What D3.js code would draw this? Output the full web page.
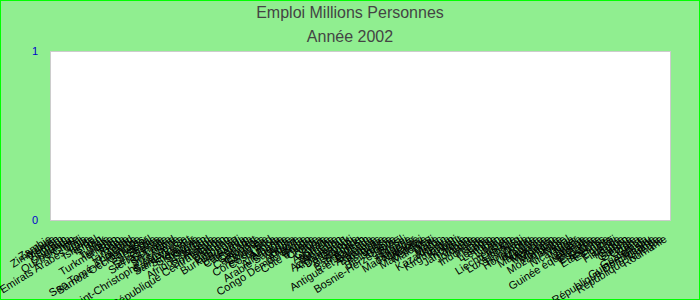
<!DOCTYPE html>
<html>
<head>
<meta charset="utf-8">
<script src="https://cdn.jsdelivr.net/npm/d3@7"></script>
<style>
  body { margin: 0; background: #fff; }
  svg { display: block; font-family: "Liberation Sans", Arial, sans-serif; }
</style>
</head>
<body>
<div id="chart"></div>
<script>
const title = 'Emploi Millions Personnes';
const subtitle = 'Année 2002';

const countries = [
  'Zambie', 'Zimbabwe', 'Yémen', 'Vietnam', 'Oman', 'Ouganda', 'Ouzbékistan', 'Chine', 'Chili',
  'Emirats Arabes Unis', 'Italie', 'Islande', 'Israël', 'Iran', 'Irak', 'Tunisie', 'Turquie',
  'Turkménistan', 'Togo', 'Tonga', 'Tanzanie', 'Tchad', 'Thaïlande', 'Sao Tomé-et-Principe',
  'Samoa Occidentales', 'Salvador', 'Sénégal', 'Serbie', 'Seychelles', 'Sierra Leone', 'Somalie',
  'Sri Lanka', 'Swaziland', 'Syrie', 'Saint-Christophe-et-Niévès', 'Sainte-Lucie', 'Saint-Vincent',
  'Singapour', 'Slovaquie', 'Slovénie', 'Soudan', 'Afrique du Sud', 'Algérie', 'Dominique',
  'République Centrafricaine', 'Bénin', 'Bhoutan', 'Birmanie', 'Burkina Faso', 'Burundi',
  'Botswana', 'Cameroun', 'Canada', 'Cap-Vert', 'Cambodge', 'Comores', 'Colombie', 'Corée du Sud',
  'Costa Rica', 'Angola', 'Albanie', 'Allemagne', 'Arabie Saoudite', 'Aruba', 'Andorre', 'Anguilla',
  'Congo Démocratique', 'Congo', "Côte d'Ivoire", 'Croatie', 'Cuba', 'Chypre', 'Australie',
  'Autriche', 'Arménie', 'Azerbaïdjan', 'Afghanistan', 'Danemark', 'Djibouti', 'Bermudes',
  'Barbade', 'Bangladesh', 'Bahreïn', 'Antigua-et-Barbuda', 'Argentine', 'Bahamas', 'Belgique',
  'Belize', 'Biélorussie', 'Bolivie', 'Bosnie-Herzégovine', 'Brésil', 'Brunei', 'Bulgarie',
  'Madagascar', 'Malaisie', 'Malawi', 'Macédoine', 'Maldives', 'Mali', 'Malte', 'Maroc',
  'Kazakhstan', 'Kenya', 'Kirghizistan', 'Kiribati', 'Koweït', 'Jamaïque', 'Japon', 'Jordanie',
  'Inde', 'Indonésie', 'Irlande', 'Laos', 'Lesotho', 'Lettonie', 'Liban', 'Libéria', 'Libye',
  'Liechtenstein', 'Lituanie', 'Luxembourg', 'Haïti', 'Honduras', 'Hong Kong', 'Hongrie',
  'Maurice', 'Mauritanie', 'Mexique', 'Moldavie', 'Monaco', 'Mongolie', 'Mozambique', 'Namibie',
  'Népal', 'Nicaragua', 'Niger', 'Nigeria', 'Norvège', 'Guinée équatoriale', 'Erythrée', 'Espagne',
  'Estonie', 'Etats-Unis', 'Ethiopie', 'Egypte', 'Fidji', 'Finlande', 'France', 'Gabon', 'Gambie',
  'Géorgie', 'Ghana', 'Grèce', 'Guatemala', 'Guinée-Bissau', 'République Dominicaine', 'Guinée',
  'République Tchèque', 'Roumanie'
];

// no employment figures shown for 2002: every bar is empty
const values = [
  0, 0, 0, 0, 0, 0, 0, 0, 0, 0, 0, 0, 0, 0, 0, 0, 0, 0, 0, 0,
  0, 0, 0, 0, 0, 0, 0, 0, 0, 0, 0, 0, 0, 0, 0, 0, 0, 0, 0, 0,
  0, 0, 0, 0, 0, 0, 0, 0, 0, 0, 0, 0, 0, 0, 0, 0, 0, 0, 0, 0,
  0, 0, 0, 0, 0, 0, 0, 0, 0, 0, 0, 0, 0, 0, 0, 0, 0, 0, 0, 0,
  0, 0, 0, 0, 0, 0, 0, 0, 0, 0, 0, 0, 0, 0, 0, 0, 0, 0, 0, 0,
  0, 0, 0, 0, 0, 0, 0, 0, 0, 0, 0, 0, 0, 0, 0, 0, 0, 0, 0, 0,
  0, 0, 0, 0, 0, 0, 0, 0, 0, 0, 0, 0, 0, 0, 0, 0, 0, 0, 0, 0,
  0, 0, 0, 0, 0, 0, 0, 0, 0, 0, 0, 0, 0, 0, 0, 0, 0, 0, 0, 0
];

const yTicks = [0, 1];

const width = 700;
const height = 300;
const margin = { top: 51, right: 30, bottom: 80, left: 50 };

const svg = d3.select('#chart')
  .append('svg')
  .attr('width', width)
  .attr('height', height);

svg.append('rect')
  .attr('x', 0.5)
  .attr('y', 0.5)
  .attr('width', width - 1)
  .attr('height', height - 1)
  .attr('fill', '#90ee90')
  .attr('stroke', '#00ff00');

svg.append('text')
  .attr('x', width / 2)
  .attr('y', 18)
  .attr('text-anchor', 'middle')
  .attr('font-size', 16)
  .attr('fill', '#444')
  .text(title);

svg.append('text')
  .attr('x', width / 2)
  .attr('y', 42)
  .attr('text-anchor', 'middle')
  .attr('font-size', 16)
  .attr('fill', '#444')
  .text(subtitle);

const x = d3.scaleBand()
  .domain(countries)
  .range([margin.left, width - margin.right])
  .padding(0.2);

const y = d3.scaleLinear()
  .domain([0, 1])
  .range([height - margin.bottom, margin.top]);

// plot area
svg.append('rect')
  .attr('x', margin.left + 0.5)
  .attr('y', margin.top + 0.5)
  .attr('width', width - margin.left - margin.right)
  .attr('height', height - margin.top - margin.bottom)
  .attr('fill', '#fff')
  .attr('stroke', '#ccc');

svg.selectAll('.bar')
  .data(values)
  .enter()
  .append('rect')
  .attr('class', 'bar')
  .attr('x', (d, i) => x(countries[i]))
  .attr('y', d => y(d))
  .attr('width', x.bandwidth())
  .attr('height', d => y(0) - y(d))
  .attr('fill', '#4a7bd0');

svg.selectAll('.ylab')
  .data(yTicks)
  .enter()
  .append('text')
  .attr('class', 'ylab')
  .attr('x', 38)
  .attr('y', d => y(d))
  .attr('dy', '0.35em')
  .attr('text-anchor', 'end')
  .attr('font-size', 11)
  .attr('fill', '#0000cc')
  .text(d => d);

svg.selectAll('.xlab')
  .data(countries)
  .enter()
  .append('text')
  .attr('class', 'xlab')
  .attr('text-anchor', 'end')
  .attr('font-size', 11)
  .attr('fill', '#000')
  .attr('transform', d => `translate(${x(d) + x.bandwidth() / 2},${y(0) + 21}) rotate(-32)`)
  .text(d => d);
</script>
</body>
</html>
